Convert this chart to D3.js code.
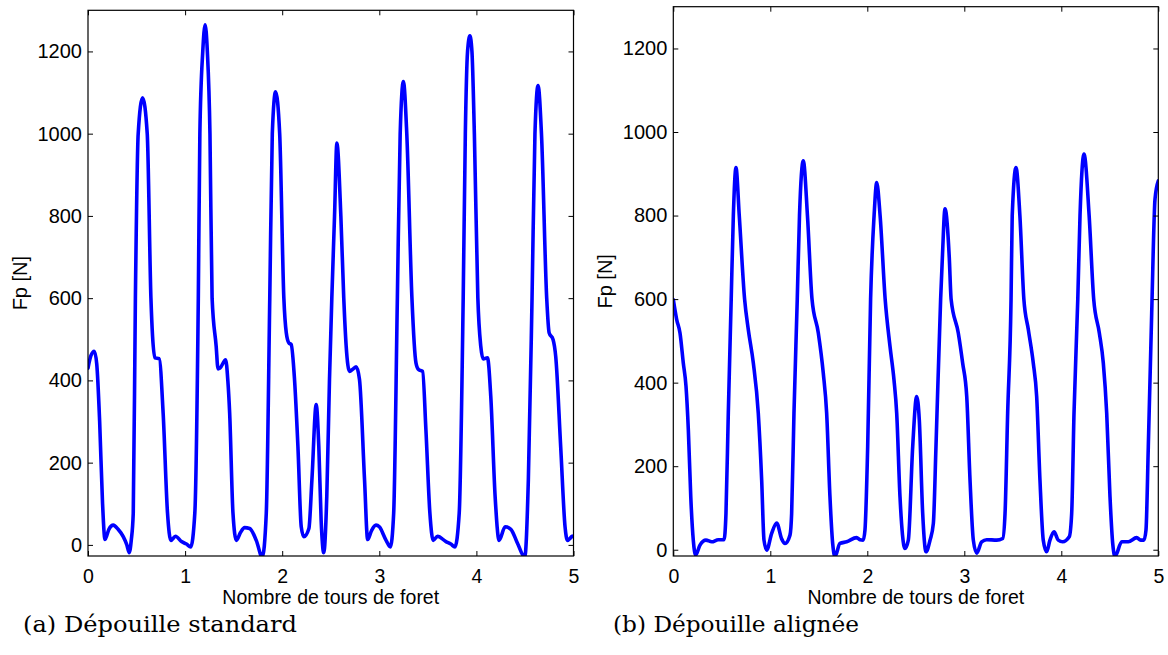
<!DOCTYPE html>
<html>
<head>
<meta charset="utf-8">
<script src="https://cdn.jsdelivr.net/npm/d3@7"></script>
<style>
  html, body { margin: 0; padding: 0; background: #fff; }
  svg { display: block; }
</style>
</head>
<body>
<svg id="chart" width="1168" height="655"></svg>
<script>
// ---- Data ----
const turnsA = [0.000,0.030,0.065,0.090,0.120,0.150,0.175,0.215,0.260,0.310,0.363,0.400,0.425,0.445,0.466,0.488,0.517,0.562,0.610,0.648,0.665,0.689,0.733,0.774,0.819,0.853,0.901,0.963,1.014,1.058,1.100,1.136,1.152,1.182,1.206,1.229,1.256,1.278,1.320,1.339,1.360,1.418,1.440,1.459,1.493,1.528,1.570,1.613,1.665,1.733,1.795,1.836,1.872,1.898,1.932,1.974,2.017,2.042,2.069,2.093,2.127,2.162,2.196,2.223,2.275,2.306,2.350,2.377,2.401,2.428,2.459,2.487,2.511,2.539,2.563,2.604,2.634,2.659,2.693,2.730,2.762,2.796,2.848,2.880,2.920,2.966,3.000,3.070,3.114,3.148,3.186,3.215,3.248,3.283,3.336,3.378,3.405,3.446,3.480,3.521,3.555,3.600,3.686,3.737,3.779,3.823,3.864,3.886,3.909,3.933,3.954,3.979,4.015,4.045,4.070,4.114,4.148,4.193,4.234,4.296,4.355,4.423,4.498,4.535,4.573,4.603,4.635,4.670,4.724,4.749,4.790,4.817,4.868,4.913,4.937,4.988,5.000];
const forceA = [430,460,471,440,300,100,13,38,48,38,20,0,-19,10,77,600,1000,1087,1000,600,507,455,453,320,77,11,21,8,2,-5,77,600,1000,1200,1265,1200,1000,600,483,428,430,450,400,320,77,11,30,42,40,11,-30,77,600,1000,1102,1000,600,516,491,487,402,239,44,20,40,158,341,239,60,-19,117,402,600,800,977,800,600,483,422,428,433,402,158,13,35,48,44,11,-5,77,600,1000,1127,1000,600,442,426,422,280,77,11,21,8,2,-5,77,600,1000,1200,1238,1200,1000,600,483,452,455,361,117,11,44,38,4,-30,158,600,1000,1117,1000,600,516,499,458,239,44,11,21,22];

const turnsB = [0.000,0.035,0.069,0.103,0.131,0.155,0.180,0.206,0.230,0.275,0.337,0.396,0.464,0.523,0.543,0.567,0.597,0.619,0.646,0.680,0.735,0.773,0.825,0.876,0.911,0.935,0.963,1.014,1.066,1.117,1.152,1.203,1.220,1.244,1.278,1.301,1.340,1.383,1.430,1.495,1.546,1.581,1.615,1.643,1.667,1.718,1.787,1.890,1.924,1.958,1.976,2.004,2.034,2.070,2.097,2.132,2.184,2.234,2.275,2.303,2.337,2.388,2.423,2.468,2.509,2.536,2.571,2.605,2.647,2.681,2.708,2.756,2.774,2.801,2.845,2.864,2.938,2.983,3.025,3.059,3.093,3.128,3.179,3.231,3.334,3.396,3.420,3.447,3.482,3.494,3.533,3.573,3.614,3.660,3.711,3.746,3.780,3.814,3.849,3.883,3.925,3.969,4.014,4.082,4.107,4.131,4.170,4.193,4.234,4.287,4.334,4.392,4.433,4.468,4.502,4.530,4.554,4.623,4.691,4.777,4.818,4.852,4.873,4.897,4.932,4.966,5.000];
const forceB = [599,551,519,447,391,287,127,23,-13,11,23,19,24,24,87,327,600,800,915,800,600,527,447,327,167,23,-1,39,64,26,15,35,87,327,600,800,931,800,600,519,423,327,127,15,-16,15,19,29,24,23,47,247,600,800,879,800,600,487,407,327,127,3,23,247,367,311,87,-5,23,63,247,600,700,816,700,600,519,447,367,167,23,-8,19,24,23,27,87,327,600,800,915,800,600,527,447,367,167,23,-5,23,43,23,19,31,87,327,600,800,947,800,600,519,447,327,127,15,-16,19,19,29,23,23,47,247,567,839,883];

const xTicks = [0, 1, 2, 3, 4, 5];
const yTicks = [0, 200, 400, 600, 800, 1000, 1200];
const xLabel = "Nombre de tours de foret";
const yLabel = "Fp [N]";
const captions = ["(a) Dépouille standard", "(b) Dépouille alignée"];

// ---- Layout ----
const panels = [
  { turns: turnsA, force: forceA, caption: captions[0],
    left: 88, right: 573.5, top: 10.3, bottom: 556, yMin: -27, yMax: 1300, capX: 23, capW: 274 },
  { turns: turnsB, force: forceB, caption: captions[1],
    left: 673.3, right: 1158.3, top: 6.7, bottom: 556, yMin: -15, yMax: 1300, capX: 613, capW: 246 }
];

const svg = d3.select("#chart");
const sansFont = "'Liberation Sans', Arial, Helvetica, sans-serif";

panels.forEach((p, i) => {
  const x = d3.scaleLinear().domain([0, 5]).range([p.left, p.right]);
  const y = d3.scaleLinear().domain([p.yMin, p.yMax]).range([p.bottom, p.top]);
  const data = p.turns.map((t, k) => [t, p.force[k]]);

  const clipId = "clip" + i;
  svg.append("clipPath").attr("id", clipId)
    .append("rect")
    .attr("x", p.left).attr("y", p.top)
    .attr("width", p.right - p.left).attr("height", p.bottom - p.top);

  // data line
  const line = d3.line()
    .x(d => x(d[0])).y(d => y(d[1]))
    .curve(d3.curveMonotoneX);
  svg.append("path")
    .datum(data)
    .attr("clip-path", `url(#${clipId})`)
    .attr("d", line)
    .attr("fill", "none")
    .attr("stroke", "#0000ff")
    .attr("stroke-width", 3.6)
    .attr("stroke-linejoin", "round")
    .attr("stroke-linecap", "round");

  // axes (ticks inward on all four sides)
  const styleAxis = g => {
    g.select(".domain").remove();
    g.selectAll(".tick line").attr("stroke", "#000").attr("stroke-width", 1);
    g.selectAll(".tick text").attr("fill", "#000")
      .style("font-family", sansFont).style("font-size", "19.5px");
  };

  const xAxisG = svg.append("g").attr("transform", `translate(0,${p.bottom})`)
    .call(d3.axisBottom(x).tickValues(xTicks).tickFormat(d3.format("d"))
      .tickSizeInner(-5).tickSizeOuter(0).tickPadding(0))
    .call(styleAxis);
  xAxisG.selectAll(".tick text").attr("y", 26.5).attr("dy", null);

  svg.append("g").attr("transform", `translate(0,${p.top})`)
    .call(d3.axisTop(x).tickValues(xTicks).tickFormat("")
      .tickSizeInner(-5).tickSizeOuter(0))
    .call(styleAxis);
  svg.append("g").attr("transform", `translate(${p.left},0)`)
    .call(d3.axisLeft(y).tickValues(yTicks).tickFormat(d3.format("d"))
      .tickSizeInner(-5).tickSizeOuter(0).tickPadding(6))
    .call(styleAxis)
    .call(g => g.selectAll(".tick text").style("font-size", "20px"));
  svg.append("g").attr("transform", `translate(${p.right},0)`)
    .call(d3.axisRight(y).tickValues(yTicks).tickFormat("")
      .tickSizeInner(-5).tickSizeOuter(0))
    .call(styleAxis);

  // box
  svg.append("rect")
    .attr("x", p.left).attr("y", p.top)
    .attr("width", p.right - p.left).attr("height", p.bottom - p.top)
    .attr("fill", "none").attr("stroke", "#000").attr("stroke-width", 1.2);

  // axis labels
  svg.append("text")
    .attr("x", (p.left + p.right) / 2).attr("y", 604)
    .attr("text-anchor", "middle")
    .style("font-family", sansFont).style("font-size", "19.5px")
    .attr("fill", "#000")
    .text(xLabel);

  svg.append("text")
    .attr("transform", `translate(${p.left - 68},${(p.top + p.bottom) / 2}) rotate(-90)`)
    .attr("text-anchor", "middle").attr("dy", "0.35em")
    .style("font-family", sansFont).style("font-size", "20px")
    .attr("fill", "#000")
    .text(yLabel);

  // caption
  svg.append("text")
    .attr("x", p.capX).attr("y", 632)
    .style("font-family", "'DejaVu Serif', 'Liberation Serif', serif")
    .style("font-size", "23px")
    .attr("textLength", p.capW).attr("lengthAdjust", "spacingAndGlyphs")
    .attr("fill", "#000")
    .text(p.caption);
});
</script>
</body>
</html>
